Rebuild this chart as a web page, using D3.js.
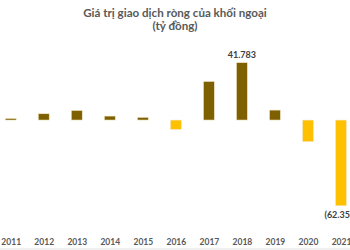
<!DOCTYPE html>
<html>
<head>
<meta charset="utf-8">
<script src="https://cdn.jsdelivr.net/npm/d3@7"></script>
<style>
  body { margin: 0; background: #fff; }
  svg { display: block; font-family: Lato, "Open Sans", sans-serif; }
</style>
</head>
<body>
<svg></svg>
<script>
const years = ['2011', '2012', '2013', '2014', '2015', '2016',
  '2017', '2018', '2019', '2020', '2021'];
const values = [1200, 4600, 7000, 2900, 2000, -6800,
  28100, 41783, 7260, -15750, -62350];
// only these two bars carry a label in the picture
const labels = {'2018': '41.783', '2021': '(62.350)'};

const width = 350;
const height = 250;

const svg = d3.select('svg')
    .attr('width', width)
    .attr('height', height);

const x = d3.scalePoint()
    .domain(years)
    .range([10.7, 341]);

const y = d3.scaleLinear()
    .domain([-62350, 41783])
    .range([205.8, 62.6]);

const barWidth = 11;

svg.append('text')
    .attr('x', 175)
    .attr('y', 17)
    .attr('text-anchor', 'middle')
    .attr('font-size', 11.6)
    .attr('font-weight', 'bold')
    .attr('fill', '#595959')
    .text('Giá trị giao dịch ròng của khối ngoại');

svg.append('text')
    .attr('x', 175)
    .attr('y', 30)
    .attr('text-anchor', 'middle')
    .attr('font-size', 11.6)
    .attr('font-weight', 'bold')
    .attr('fill', '#595959')
    .text('(tỷ đồng)');

svg.selectAll('.bar')
    .data(values)
    .enter().append('rect')
    .attr('class', 'bar')
    .attr('x', function(d, i) {
      return x(years[i]) - barWidth / 2;
    })
    .attr('y', function(d) {
      return Math.min(y(d), y(0));
    })
    .attr('width', barWidth)
    .attr('height', function(d) {
      return Math.abs(y(d) - y(0));
    })
    .attr('fill', function(d) {
      return d >= 0 ? '#7f6000' : '#ffc000';
    })
    .attr('stroke', '#f3ead0')
    .attr('stroke-width', 0.6);

svg.selectAll('.value')
    .data(values)
    .enter().filter(function(d, i) {
      return labels[years[i]] !== undefined;
    })
    .append('text')
    .attr('class', 'value')
    .attr('x', function(d) {
      return x(years[values.indexOf(d)]);
    })
    .attr('y', function(d) {
      return d >= 0 ? y(d) - 5 : y(d) + 12;
    })
    .attr('text-anchor', 'middle')
    .attr('font-size', 9)
    .attr('font-weight', 'bold')
    .attr('fill', '#404040')
    .text(function(d) {
      return labels[years[values.indexOf(d)]];
    });

const axis = svg.append('g')
    .attr('transform', 'translate(0,245)')
    .call(d3.axisBottom(x).tickSize(0).tickPadding(0));
axis.select('.domain').remove();
axis.selectAll('text')
    .attr('dy', 0)
    .attr('font-family', 'Lato, "Open Sans", sans-serif')
    .attr('font-size', 8.5)
    .attr('font-weight', 'bold')
    .attr('fill', '#595959');

svg.append('rect')
    .attr('x', 0)
    .attr('y', 248)
    .attr('width', width)
    .attr('height', 2)
    .attr('fill', '#f0f0f0');
</script>
</body>
</html>
